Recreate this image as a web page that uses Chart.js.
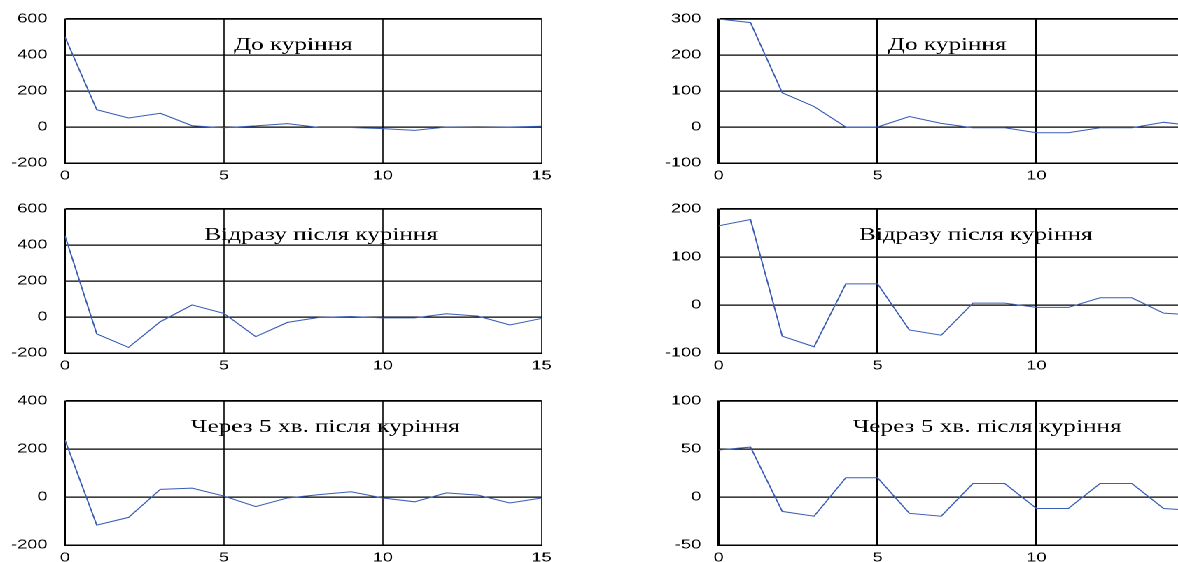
<!DOCTYPE html>
<html>
<head>
<meta charset="utf-8">
<script src="https://cdn.jsdelivr.net/npm/chart.js@4.4.1/dist/chart.umd.min.js"></script>
<style>
  html, body { margin: 0; padding: 0; background: #fff; overflow: hidden; width: 1178px; height: 562px; }
  /* the figure is laid out narrow and widened horizontally as a whole */
  #stage { position: absolute; left: 0; top: 0; width: 842px; height: 562px; transform: scaleX(1.4); transform-origin: 0 0; }
  .panel { position: absolute; width: 400px; height: 190px; }
  .panel canvas { display: block; }
</style>
</head>
<body>
<div id="stage">
  <div class="panel" style="left:0px;top:-2px"><canvas id="beforeL" width="400" height="190"></canvas></div>
  <div class="panel" style="left:466.8px;top:-2px"><canvas id="beforeR" width="400" height="190"></canvas></div>
  <div class="panel" style="left:0px;top:188.2px"><canvas id="rightAfterL" width="400" height="190"></canvas></div>
  <div class="panel" style="left:466.8px;top:188.2px"><canvas id="rightAfterR" width="400" height="190"></canvas></div>
  <div class="panel" style="left:0px;top:379.5px"><canvas id="fiveMinL" width="400" height="190"></canvas></div>
  <div class="panel" style="left:466.8px;top:379.5px"><canvas id="fiveMinR" width="400" height="190"></canvas></div>
</div>
<script>
// lag index shared by every panel
const lags = [0, 1, 2, 3, 4, 5, 6, 7, 8, 9, 10, 11, 12, 13, 14, 15];
const xTicks = [0, 5, 10, 15];

// panel captions
const titleBefore = 'До куріння';
const titleRightAfter = 'Відразу після куріння';
const titleFiveMin = 'Через 5 хв. після куріння';

// left column series
const beforeLeft     = [500, 96, 50, 76, 7, -4, 6, 19, -3, -3, -9, -19, 0, -3, 0, 4];
const rightAfterLeft = [450, -94, -169, -26, 67, 20, -109, -30, -2, 3, -5, -5, 18, 5, -44, -8];
const fiveMinLeft    = [237, -117, -85, 32, 37, 4, -40, -4, 10, 22, -4, -20, 17, 8, -25, -4];

// right column series
const beforeRight     = [300, 290, 95, 57, 0, 0, 29, 10, -2, -2, -16, -16, -2, -2, 13, 3];
const rightAfterRight = [165, 178, -65, -87, 44, 44, -52, -63, 4, 4, -5, -5, 15, 15, -17, -21];
const fiveMinRight    = [49, 52, -15, -20, 20, 20, -17, -20, 14, 14, -12, -12, 14, 14, -12, -14];

// y tick values per panel
const yTicksBeforeL     = [-200, 0, 200, 400, 600];
const yTicksRightAfterL = [-200, 0, 200, 400, 600];
const yTicksFiveMinL    = [-200, 0, 200, 400];
const yTicksBeforeR     = [-100, 0, 100, 200, 300];
const yTicksRightAfterR = [-100, 0, 100, 200];
const yTicksFiveMinR    = [-50, 0, 50, 100];

const LINE_COLOR = '#3a5db5';
const TICK_FONT = { family: '"Liberation Sans", Arial, sans-serif', size: 13 };

// caption written inside the plot area
const panelTitle = {
  id: 'panelTitle',
  afterDatasetsDraw(chart, args, opts) {
    const { ctx, chartArea } = chart;
    ctx.save();
    ctx.font = '18px "Liberation Serif", "Times New Roman", serif';
    ctx.fillStyle = '#000';
    ctx.textAlign = 'center';
    ctx.textBaseline = 'alphabetic';
    ctx.fillText(opts.text, chartArea.left + opts.dx, chartArea.top + opts.dy);
    ctx.restore();
  }
};

function drawPanel(id, values, yTicks, title, titleDx, vGridWidth) {
  const top = yTicks[yTicks.length - 1];
  new Chart(document.getElementById(id), {
    type: 'line',
    data: {
      datasets: [{
        data: lags.map((x, i) => ({ x: x, y: values[i] })),
        borderColor: LINE_COLOR,
        borderWidth: 1,
        pointRadius: 0,
        tension: 0,
        fill: false
      }]
    },
    options: {
      responsive: false,
      animation: false,
      devicePixelRatio: 2,
      layout: { padding: { top: 21, right: 13.1, left: 0, bottom: 0 } },
      plugins: {
        legend: { display: false },
        tooltip: { enabled: false },
        panelTitle: { text: title, dx: titleDx, dy: 30.8 }
      },
      scales: {
        x: {
          type: 'linear',
          min: lags[0],
          max: lags[lags.length - 1],
          afterBuildTicks: s => { s.ticks = xTicks.map(v => ({ value: v })); },
          afterFit: s => { s.height = 25; },
          grid: { color: '#000', lineWidth: vGridWidth, drawTicks: false },
          border: { color: '#000', width: 1.5 },
          ticks: { padding: 5, color: '#000', font: TICK_FONT, maxRotation: 0, autoSkip: false }
        },
        y: {
          min: yTicks[0],
          max: top,
          afterBuildTicks: s => { s.ticks = yTicks.map(v => ({ value: v })); },
          afterFit: s => { s.width = 46.4; },
          grid: {
            color: '#000',
            lineWidth: c => (c.tick && c.tick.value === top ? 1.7 : 1.25),
            drawTicks: false
          },
          border: { color: '#000', width: 1.5 },
          ticks: { padding: 12.5, color: '#000', font: TICK_FONT }
        }
      }
    },
    plugins: [panelTitle]
  });
}

drawPanel('beforeL', beforeLeft, yTicksBeforeL, titleBefore, 163, 0.8);
drawPanel('beforeR', beforeRight, yTicksBeforeR, titleBefore, 163.2, 1.5);
drawPanel('rightAfterL', rightAfterLeft, yTicksRightAfterL, titleRightAfter, 183, 0.8);
drawPanel('rightAfterR', rightAfterRight, yTicksRightAfterR, titleRightAfter, 183.6, 1.5);
drawPanel('fiveMinL', fiveMinLeft, yTicksFiveMinL, titleFiveMin, 186, 0.8);
drawPanel('fiveMinR', fiveMinRight, yTicksFiveMinR, titleFiveMin, 191.8, 1.5);
</script>
</body>
</html>
